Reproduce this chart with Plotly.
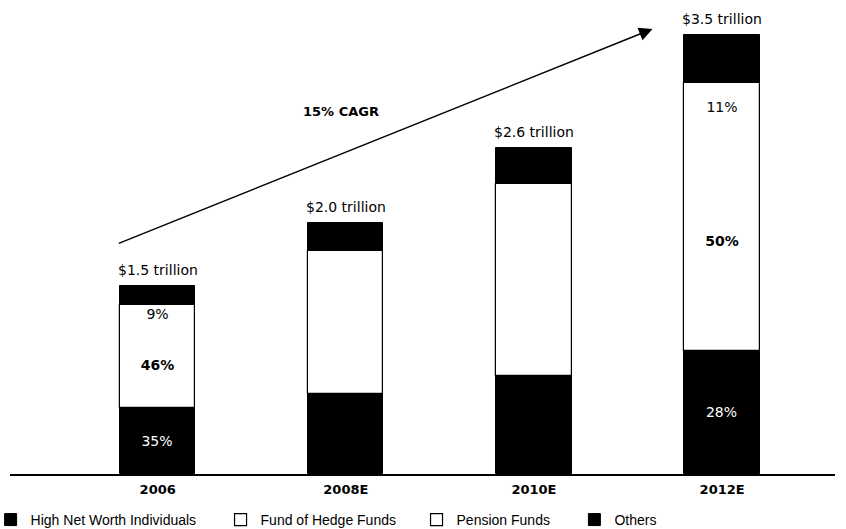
import plotly.graph_objects as go

# Hedge fund assets by investor type, in trillions of US dollars
categories = ["2006", "2008E", "2010E", "2012E"]
totals = [1.5, 2.0, 2.6, 3.5]
total_labels = ["$1.5 trillion", "$2.0 trillion", "$2.6 trillion", "$3.5 trillion"]

# Share of total assets (%) by investor type
hnwi_share = [35, 32, 30, 28]
fohf_share = [46, 47, 49, 50]
pension_share = [9, 10, 10, 11]
others_share = [10, 11, 11, 11]

# Years whose segment shares are printed on the bars
labelled = [True, False, False, True]

# Growth arrow endpoints (category index, trillions) and its caption
cagr_text = "15% CAGR"
arrow_start = (-0.215, 1.833)
arrow_end = (2.63, 3.546)

FONT = "DejaVu Sans, Verdana, sans-serif"
LEGEND_FONT = "Liberation Sans, Arial, Helvetica, sans-serif"
BAR_W = 0.4
NBSP = "\u00a0"


def values(shares):
    return [t * s / 100 for t, s in zip(totals, shares)]


def labels(shares):
    return [f"{s}%" if show else "" for s, show in zip(shares, labelled)]


hnwi = values(hnwi_share)
fohf = values(fohf_share)
pension = values(pension_share)
others = values(others_share)

base_fohf = hnwi
base_pension = [a + b for a, b in zip(hnwi, fohf)]
base_others = [a + b for a, b in zip(base_pension, pension)]

x_idx = list(range(len(categories)))
inside = dict(textposition="inside", insidetextanchor="middle",
              constraintext="none", textangle=0)

fig = go.Figure()

fig.add_trace(go.Bar(
    name="High Net Worth Individuals" + NBSP * 5, legendrank=1,
    x=x_idx, y=hnwi, base=[0] * 4, width=BAR_W,
    marker=dict(color="black", line=dict(color="black", width=1)),
    text=labels(hnwi_share), **inside,
    insidetextfont=dict(color="white", size=14, family=FONT),
))
fig.add_trace(go.Bar(
    name="Fund of Hedge Funds", showlegend=False,
    x=x_idx, y=fohf, base=base_fohf, width=BAR_W,
    marker=dict(color="white", line=dict(color="white", width=0)),
    text=labels(fohf_share), texttemplate="<b>%{text}</b>", **inside,
    insidetextfont=dict(color="black", size=14, family=FONT),
))
fig.add_trace(go.Bar(
    name="Pension Funds", showlegend=False,
    x=x_idx, y=pension, base=base_pension, width=BAR_W,
    marker=dict(color="white", line=dict(color="white", width=0)),
    text=labels(pension_share), **inside,
    insidetextfont=dict(color="black", size=14, family=FONT),
))
fig.add_trace(go.Bar(
    name="Others", legendrank=4,
    x=x_idx, y=others, base=base_others, width=BAR_W,
    marker=dict(color="black", line=dict(color="black", width=1)),
))
# Outline around the two white segments together
fig.add_trace(go.Bar(
    x=x_idx, y=[a + b for a, b in zip(fohf, pension)], base=base_fohf,
    width=BAR_W, marker=dict(color="rgba(0,0,0,0)", line=dict(color="black", width=1.2)),
    showlegend=False, hoverinfo="skip",
))
# Legend keys for the white series, drawn with a black border
for name, rank in [("Fund of Hedge Funds" + NBSP * 4, 2), ("Pension Funds" + NBSP * 5, 3)]:
    fig.add_trace(go.Bar(
        name=name, legendrank=rank, x=[None], y=[None],
        marker=dict(color="white", line=dict(color="black", width=1.2)),
        hoverinfo="skip",
    ))

annotations = []
for i, (t, lab) in enumerate(zip(totals, total_labels)):
    annotations.append(dict(
        x=i, y=t, text=lab, showarrow=False, yanchor="bottom", yshift=6,
        font=dict(size=14, family=FONT, color="black"),
    ))

annotations.append(dict(
    x=arrow_end[0], y=arrow_end[1], ax=arrow_start[0], ay=arrow_start[1],
    xref="x", yref="y", axref="x", ayref="y", text="", showarrow=True,
    arrowhead=2, arrowsize=1.8, arrowwidth=1.5, arrowcolor="black",
))
annotations.append(dict(
    x=0.976, y=2.89, text=f"<b>{cagr_text}</b>", showarrow=False,
    font=dict(size=13, family=FONT, color="black"),
))

fig.update_layout(
    width=846, height=529,
    margin=dict(l=10, r=11, t=0, b=55, autoexpand=False),
    paper_bgcolor="white", plot_bgcolor="white",
    barmode="overlay",
    font=dict(family=FONT, size=13, color="black"),
    showlegend=True,
    legend=dict(
        orientation="h", x=-0.0235, xanchor="left", y=-0.097, yanchor="middle",
        font=dict(size=14, family=LEGEND_FONT), traceorder="normal",
        itemclick=False, itemdoubleclick=False,
    ),
    annotations=annotations,
    bargap=0,
)

fig.update_xaxes(
    range=[-0.785, 3.6], tickmode="array", tickvals=x_idx,
    ticktext=[f"<b>{c}</b>" for c in categories],
    showline=True, linecolor="black", linewidth=1.5,
    showgrid=False, zeroline=False, ticks="", ticklabelstandoff=3,
    tickfont=dict(size=13, family=FONT),
)
fig.update_yaxes(range=[0, 3.777], visible=False, showgrid=False, zeroline=False)

fig.write_html("out.html")
